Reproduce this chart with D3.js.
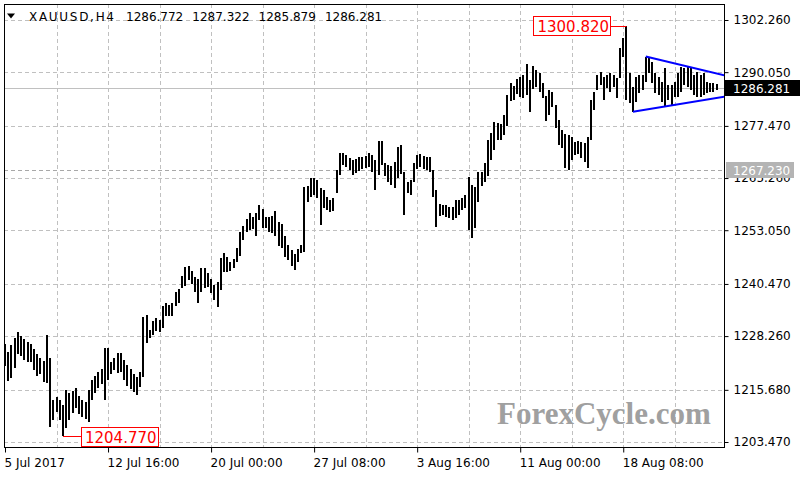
<!DOCTYPE html>
<html>
<head>
<meta charset="utf-8">
<script src="https://cdn.jsdelivr.net/npm/d3@7"></script>
<style>
html, body { margin: 0; padding: 0; background: #fff; }
svg { display: block; font-family: "DejaVu Sans", sans-serif; }
</style>
</head>
<body>
<svg id="chart"></svg>
<script>
// XAUUSD H4 bars, one value per bar (bar index 0 = 5 Jul 2017 08:00)
const highs = [
    1226.41, 1224.54, 1226.18, 1227.81, 1229.22, 1228.28, 1227.58, 1226.88, 1226.41, 1225.24,
    1224.07, 1223.13, 1222.43, 1228.52, 1223.13, 1213.30, 1214.00, 1213.30, 1212.13, 1215.64,
    1214.94, 1215.41, 1216.11, 1214.24, 1213.30, 1212.83, 1215.64, 1217.98, 1218.92, 1219.85,
    1220.56, 1225.47, 1225.47, 1222.20, 1223.13, 1224.30, 1224.30, 1222.66, 1221.49, 1220.56,
    1219.39, 1218.68, 1219.85, 1232.73, 1233.20, 1229.69, 1231.79, 1232.50, 1232.03, 1235.31,
    1236.01, 1235.54, 1236.01, 1238.58, 1239.29, 1242.33, 1244.44, 1244.67, 1243.50, 1242.09,
    1241.63, 1244.20, 1244.20, 1243.03, 1241.63, 1240.22, 1240.92, 1246.54, 1247.71, 1246.78,
    1245.61, 1246.31, 1248.88, 1252.63, 1254.03, 1255.67, 1257.08, 1256.14, 1257.08, 1258.95,
    1258.01, 1256.14, 1256.14, 1256.37, 1257.54, 1254.97, 1254.50, 1251.69, 1249.59, 1248.41,
    1247.48, 1248.65, 1249.59, 1263.16, 1263.40, 1265.27, 1265.27, 1264.80, 1262.93, 1262.46,
    1260.82, 1260.12, 1260.59, 1267.14, 1271.12, 1271.12, 1270.65, 1269.95, 1269.48, 1269.72,
    1270.19, 1270.19, 1270.42, 1271.12, 1270.65, 1269.48, 1273.93, 1273.93, 1268.78, 1268.31,
    1268.08, 1269.02, 1272.53, 1273.00, 1266.67, 1264.33, 1264.80, 1268.78, 1270.65, 1270.89,
    1270.42, 1270.19, 1270.19, 1267.14, 1262.46, 1259.18, 1258.95, 1258.95, 1258.48, 1258.48,
    1260.12, 1260.12, 1260.59, 1261.29, 1265.50, 1263.63, 1263.16, 1266.67, 1266.67, 1268.78,
    1274.17, 1275.80, 1278.38, 1278.15, 1277.91, 1280.02, 1284.70, 1287.51, 1286.81, 1288.45,
    1288.91, 1289.38, 1291.96, 1288.21, 1291.49, 1290.55, 1289.85, 1287.51, 1284.47, 1285.87,
    1285.40, 1282.36, 1278.85, 1276.51, 1275.57, 1275.34, 1274.87, 1273.70, 1273.93, 1273.70,
    1273.46, 1274.87, 1283.53, 1285.40, 1289.38, 1290.08, 1288.91, 1289.38, 1289.85, 1289.38,
    1288.68, 1295.70, 1298.04, 1300.82, 1289.85, 1286.57, 1288.91, 1289.38, 1289.38, 1293.60,
    1293.36, 1292.43, 1289.85, 1288.91, 1287.74, 1291.02, 1287.04, 1287.04, 1287.74, 1289.85,
    1291.26, 1291.02, 1291.26, 1291.02, 1289.38, 1290.08, 1289.38, 1289.85, 1287.74, 1287.51,
    1287.51, 1287.32
];
const lows = [
    1221.26, 1217.75, 1218.45, 1220.79, 1224.07, 1223.60, 1222.66, 1222.20, 1222.20, 1220.32,
    1218.92, 1219.39, 1217.51, 1217.28, 1206.98, 1208.62, 1210.49, 1208.62, 1204.77, 1206.75,
    1208.62, 1210.26, 1211.43, 1210.02, 1209.32, 1208.85, 1208.15, 1213.30, 1214.94, 1216.11,
    1217.05, 1213.30, 1217.98, 1219.39, 1220.32, 1219.62, 1219.85, 1217.98, 1216.58, 1215.88,
    1215.17, 1214.47, 1216.34, 1218.68, 1226.64, 1227.81, 1228.52, 1229.45, 1229.22, 1230.16,
    1232.96, 1232.96, 1232.96, 1235.31, 1236.01, 1239.52, 1239.99, 1241.39, 1240.46, 1238.58,
    1236.01, 1238.58, 1239.52, 1239.75, 1238.35, 1236.71, 1235.07, 1239.05, 1243.26, 1243.26,
    1243.50, 1244.20, 1245.61, 1247.01, 1250.76, 1252.63, 1253.10, 1253.33, 1251.69, 1255.44,
    1253.57, 1253.57, 1252.63, 1252.39, 1251.69, 1249.35, 1248.88, 1246.78, 1246.07, 1244.67,
    1243.73, 1245.61, 1247.71, 1247.95, 1259.65, 1260.82, 1261.29, 1260.59, 1254.27, 1258.25,
    1257.78, 1257.31, 1257.54, 1261.76, 1265.97, 1268.31, 1267.85, 1267.14, 1265.97, 1266.44,
    1266.91, 1267.38, 1267.61, 1267.85, 1266.67, 1262.46, 1265.97, 1268.31, 1265.74, 1264.33,
    1263.63, 1262.93, 1265.27, 1266.21, 1256.61, 1261.76, 1261.29, 1264.33, 1267.38, 1267.85,
    1267.38, 1267.14, 1266.67, 1260.82, 1253.80, 1256.37, 1256.61, 1256.14, 1255.91, 1255.44,
    1255.91, 1256.61, 1257.78, 1258.25, 1253.10, 1251.22, 1253.57, 1259.65, 1263.40, 1264.33,
    1265.74, 1269.48, 1271.82, 1274.17, 1274.17, 1275.34, 1277.44, 1283.30, 1283.53, 1284.93,
    1284.23, 1284.00, 1284.70, 1280.72, 1286.11, 1286.57, 1285.40, 1284.00, 1278.61, 1280.02,
    1281.89, 1276.98, 1273.00, 1272.29, 1267.61, 1267.23, 1269.48, 1270.65, 1270.89, 1269.95,
    1269.02, 1267.61, 1274.17, 1281.19, 1285.87, 1287.04, 1283.53, 1286.34, 1285.40, 1286.57,
    1284.00, 1288.68, 1293.60, 1283.53, 1282.83, 1280.72, 1283.06, 1285.17, 1285.87, 1287.74,
    1289.85, 1287.51, 1285.17, 1284.70, 1283.06, 1281.89, 1283.53, 1282.36, 1284.23, 1284.23,
    1285.40, 1287.04, 1286.57, 1285.87, 1284.70, 1284.23, 1284.23, 1284.70, 1285.17, 1285.40,
    1285.40, 1285.88
];

// axis labels
const priceTicks = [1302.26, 1290.05, 1277.47, 1265.26, 1253.05, 1240.47, 1228.26, 1215.68, 1203.47];
const timeTickBars = [0, 32, 64, 96, 128, 160, 192];
const timeTickLabels = ['5 Jul 2017', '12 Jul 16:00', '20 Jul 00:00', '27 Jul 08:00', '3 Aug 16:00', '11 Aug 00:00', '18 Aug 08:00'];

// header: symbol and last bar open/high/low/close
const symbol = 'XAUUSD,H4';
const lastOHLC = ['1286.772', '1287.322', '1285.879', '1286.281'];

// levels and annotations
const bidPrice = 1286.281;
const supportPrice = 1267.23;
const highMark = [193, 1300.82];
const lowMark = [18, 1204.77];
const upperLine = [[199, 1293.72], [223.6, 1289.27]];
const lowerLine = [[195, 1280.79], [223.6, 1284.35]];

const width = 800;
const height = 480;
const plot = { left: 4, right: 724, top: 4, bottom: 447 };

const svg = d3.select('#chart')
    .attr('width', width)
    .attr('height', height);

const x = d3.scaleLinear().domain([0, 223.6]).range([5, 725]);
const y = d3.scaleLinear().domain([1203.47, 1302.26]).range([442, 20]);
const px = v => Math.round(v) + 0.5;

svg.append('clipPath').attr('id', 'plotClip')
  .append('rect')
    .attr('x', plot.left).attr('y', plot.top)
    .attr('width', plot.right - plot.left).attr('height', plot.bottom - plot.top);

// grid
const grid = svg.append('g')
    .attr('stroke', '#c0c0c0')
    .attr('stroke-dasharray', '4,3')
    .attr('shape-rendering', 'crispEdges');

grid.selectAll('.hgrid')
    .data(priceTicks)
    .enter()
    .append('line')
        .attr('x1', plot.left).attr('x2', plot.right)
        .attr('y1', d => px(y(d))).attr('y2', d => px(y(d)));

grid.selectAll('.vgrid')
    .data(d3.range(16, highs.length, 16))
    .enter()
    .append('line')
        .attr('x1', d => px(x(d))).attr('x2', d => px(x(d)))
        .attr('y1', plot.top).attr('y2', plot.bottom);

// support level (dashed) and bid line
svg.append('line')
    .attr('x1', plot.left).attr('x2', plot.right)
    .attr('y1', px(y(supportPrice))).attr('y2', px(y(supportPrice)))
    .attr('stroke', '#a8a8a8')
    .attr('stroke-dasharray', '4,3')
    .attr('shape-rendering', 'crispEdges');

svg.append('line')
    .attr('x1', plot.left).attr('x2', plot.right)
    .attr('y1', px(y(bidPrice))).attr('y2', px(y(bidPrice)))
    .attr('stroke', '#c0c0c0')
    .attr('shape-rendering', 'crispEdges');

// bars
svg.append('g')
    .attr('clip-path', 'url(#plotClip)')
  .selectAll('rect')
  .data(highs)
  .enter()
  .append('rect')
    .attr('x', (d, i) => Math.round(x(i)) - 1)
    .attr('width', 2)
    .attr('y', (d, i) => Math.round(y(d)))
    .attr('height', (d, i) => Math.max(1, Math.round(y(lows[i])) - Math.round(y(d))))
    .attr('fill', '#000')
    .attr('shape-rendering', 'crispEdges');

// triangle trend lines
const trend = d3.line().x(d => x(d[0])).y(d => y(d[1]));
svg.append('g')
    .attr('clip-path', 'url(#plotClip)')
  .selectAll('path')
  .data([upperLine, lowerLine])
  .enter()
  .append('path')
    .attr('d', trend)
    .attr('fill', 'none')
    .attr('stroke', '#0000ff')
    .attr('stroke-width', 2);

// frame
svg.append('rect')
    .attr('x', plot.left + 0.5).attr('y', plot.top + 0.5)
    .attr('width', plot.right - plot.left).attr('height', plot.bottom - plot.top)
    .attr('fill', 'none')
    .attr('stroke', '#000')
    .attr('shape-rendering', 'crispEdges');

// price axis
const yAxis = svg.append('g')
    .attr('transform', `translate(${plot.right + 0.5},0)`)
    .call(d3.axisRight(y).tickValues(priceTicks).tickFormat(d3.format('.3f')).tickSize(4).tickPadding(5));
yAxis.select('.domain').remove();
yAxis.selectAll('text').attr('font-size', 12).attr('font-family', '"DejaVu Sans", sans-serif').attr('fill', '#000');
yAxis.selectAll('line').attr('stroke', '#000');

// time axis
const xAxis = svg.append('g')
    .attr('transform', `translate(0,${plot.bottom + 0.5})`)
    .call(d3.axisBottom(x).tickValues(timeTickBars).tickFormat((d, i) => timeTickLabels[i]).tickSize(5));
xAxis.select('.domain').remove();
xAxis.selectAll('line').attr('stroke', '#000');
xAxis.selectAll('text')
    .attr('font-size', 12)
    .attr('font-family', '"DejaVu Sans", sans-serif')
    .attr('fill', '#000')
    .attr('text-anchor', 'start')
    .attr('x', -1)
    .attr('y', 11);

// bid price label
const bidY = Math.round(y(bidPrice));
svg.append('rect')
    .attr('x', plot.right + 1).attr('y', bidY - 8)
    .attr('width', width - plot.right).attr('height', 16)
    .attr('fill', '#000');
svg.append('text')
    .attr('x', plot.right + 9).attr('y', bidY + 4.5)
    .attr('font-size', 12).attr('fill', '#fff')
    .text(bidPrice.toFixed(3));

// support price label
const supY = Math.round(y(supportPrice));
svg.append('rect')
    .attr('x', plot.right + 2).attr('y', supY - 8)
    .attr('width', 68).attr('height', 16)
    .attr('fill', '#b4b4b4');
svg.append('text')
    .attr('x', plot.right + 9).attr('y', supY + 4.5)
    .attr('font-size', 12).attr('fill', '#fff')
    .text(supportPrice.toFixed(3));

// header
svg.append('path')
    .attr('d', 'M7,13.5 L15,13.5 L11,18.5 Z')
    .attr('fill', '#000');
svg.append('text')
    .attr('x', 29).attr('y', 21)
    .attr('font-size', 12)
    .attr('textLength', 85).attr('lengthAdjust', 'spacing')
    .text(symbol);
svg.selectAll('.ohlc')
    .data(lastOHLC)
    .enter()
    .append('text')
        .attr('x', (d, i) => 126 + i * 66.3)
        .attr('y', 21)
        .attr('font-size', 12)
        .text(d => d);

// high / low callouts
const hx = x(highMark[0]);
const hy = px(y(highMark[1]));
svg.append('line')
    .attr('x1', hx - 16).attr('x2', hx)
    .attr('y1', hy).attr('y2', hy)
    .attr('stroke', '#ff0000');
svg.append('rect')
    .attr('x', Math.round(hx - 93) + 0.5).attr('y', hy - 10)
    .attr('width', 77).attr('height', 19)
    .attr('fill', '#fff').attr('stroke', '#ff0000');
svg.append('text')
    .attr('x', hx - 89).attr('y', hy + 5.5)
    .attr('font-size', 15).attr('fill', '#ff0000')
    .text(highMark[1].toFixed(3));

const lx = x(lowMark[0]);
const ly = px(y(lowMark[1]));
svg.append('line')
    .attr('x1', lx).attr('x2', lx + 18)
    .attr('y1', ly).attr('y2', ly)
    .attr('stroke', '#ff0000');
svg.append('rect')
    .attr('x', Math.round(lx + 18) + 0.5).attr('y', ly - 9)
    .attr('width', 77).attr('height', 19)
    .attr('fill', '#fff').attr('stroke', '#ff0000');
svg.append('text')
    .attr('x', lx + 22).attr('y', ly + 6.5)
    .attr('font-size', 15).attr('fill', '#ff0000')
    .text(lowMark[1].toFixed(3));

// watermark
svg.append('text')
    .attr('x', 497).attr('y', 424)
    .attr('font-family', '"Liberation Serif", serif')
    .attr('font-weight', 'bold')
    .attr('font-size', 31)
    .attr('fill', '#a0a0a0')
    .text('ForexCycle.com');
</script>
</body>
</html>
